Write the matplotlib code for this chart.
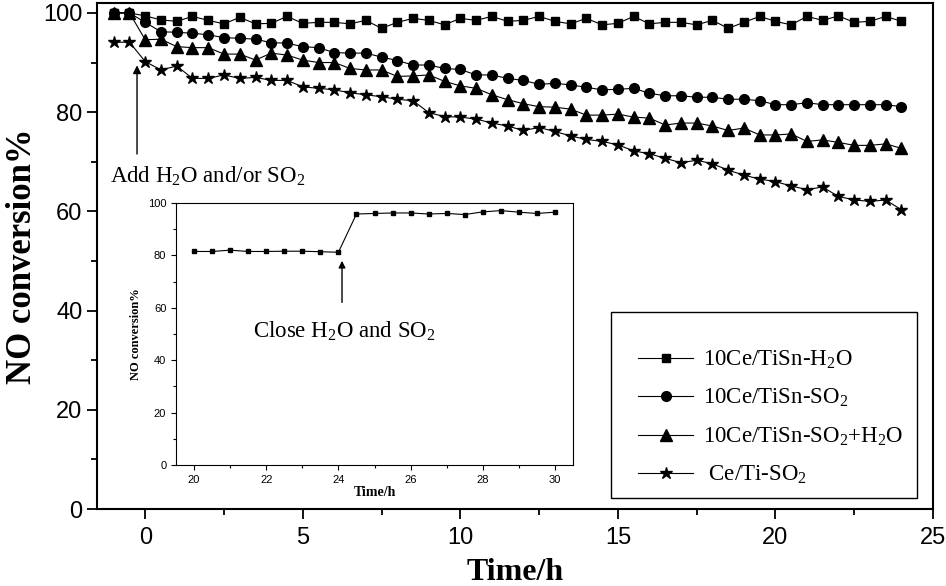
import matplotlib
matplotlib.use("Agg")
import matplotlib.pyplot as plt
from matplotlib.patches import Rectangle
from matplotlib.ticker import MultipleLocator

# data
time_h = [-1 + 0.5 * i for i in range(51)]

h2o = [100.0, 100.0, 99.4, 98.6, 98.3, 99.3, 98.5, 97.8, 99.1, 97.8,
       97.9, 99.3, 97.9, 98.1, 98.1, 97.8, 98.5, 96.9, 98.1, 98.9,
       98.5, 97.6, 98.9, 98.5, 99.3, 98.3, 98.5, 99.3, 98.3, 97.8,
       98.9, 97.6, 97.9, 99.3, 97.8, 98.1, 98.1, 97.6, 98.5, 96.9,
       98.1, 99.3, 98.3, 97.6, 99.3, 98.5, 99.4, 98.1, 98.3, 99.3,
       98.3]
so2 = [100.0, 100.0, 98.1, 96.2, 96.1, 95.9, 95.6, 95.0, 94.9, 94.7,
       94.0, 93.9, 93.2, 93.0, 92.0, 91.9, 91.9, 91.1, 90.4, 89.5,
       89.5, 88.8, 88.6, 87.5, 87.5, 86.8, 86.4, 85.6, 85.8, 85.5,
       85.0, 84.5, 84.6, 84.8, 83.8, 83.3, 83.3, 83.0, 83.0, 82.6,
       82.6, 82.3, 81.5, 81.5, 81.9, 81.5, 81.5, 81.5, 81.5, 81.5,
       81.1]
so2_h2o = [100.0, 100.0, 94.6, 94.7, 93.2, 93.0, 93.0, 91.7, 91.7, 90.5,
           91.9, 91.5, 90.5, 90.0, 90.0, 88.8, 88.5, 88.5, 87.2, 87.3,
           87.5, 86.2, 85.3, 84.8, 83.5, 82.5, 81.7, 81.1, 81.0, 80.6,
           79.4, 79.4, 79.6, 79.0, 78.8, 77.4, 77.8, 77.8, 77.2, 76.3,
           76.8, 75.4, 75.4, 75.6, 74.1, 74.4, 73.9, 73.3, 73.3, 73.6,
           72.7]
ceti = [94.1, 94.1, 90.2, 88.5, 89.3, 86.8, 86.8, 87.5, 86.8, 87.0,
        86.4, 86.4, 85.1, 84.8, 84.5, 83.9, 83.5, 83.1, 82.6, 82.3,
        79.9, 79.1, 79.0, 78.6, 77.8, 77.2, 76.3, 76.9, 76.1, 75.2,
        74.5, 74.1, 73.4, 72.2, 71.6, 70.7, 69.8, 70.3, 69.6, 68.3,
        67.3, 66.5, 66.0, 65.1, 64.4, 64.9, 63.0, 62.3, 62.0, 62.3,
        60.3]

labels = ['10Ce/TiSn-H$_2$O', '10Ce/TiSn-SO$_2$',
          '10Ce/TiSn-SO$_2$+H$_2$O', ' Ce/Ti-SO$_2$']

# inset: switching off H2O and SO2
inset_t = [20, 20.5, 21, 21.5, 22, 22.5, 23, 23.5, 24, 24.5, 25,
           25.5, 26, 26.5, 27, 27.5, 28, 28.5, 29, 29.5, 30]
inset_no = [81.5, 81.5, 82.0, 81.5, 81.5, 81.6, 81.6, 81.4, 81.2, 95.8, 96.0,
            96.2, 96.2, 95.8, 96.0, 95.6, 96.6, 97.1, 96.5, 96.0, 96.5]

plt.rcParams['mathtext.fontset'] = 'custom'
plt.rcParams['mathtext.rm'] = 'Liberation Serif'
plt.rcParams['mathtext.it'] = 'Liberation Serif:italic'
plt.rcParams['mathtext.bf'] = 'Liberation Serif:bold'
serif = ['Liberation Serif', 'DejaVu Serif']
sans = ['Liberation Sans', 'DejaVu Sans']

fig = plt.figure(figsize=(9.46, 5.86), dpi=100)
ax = fig.add_axes([97/946, 1 - 509/586, 836/946, 506/586])

ax.plot(time_h, h2o, 'k-', marker='s', ms=6, lw=0.8, label=labels[0])
ax.plot(time_h, so2, 'k-', marker='o', ms=7, lw=0.8, label=labels[1])
ax.plot(time_h, so2_h2o, 'k-', marker='^', ms=8, lw=0.8, label=labels[2])
ax.plot(time_h, ceti, 'k-', marker='*', ms=9, lw=0.8, label=labels[3])

ax.set_xlim(-1.53, 25)
ax.set_ylim(0, 102)
ax.xaxis.set_major_locator(MultipleLocator(5))
ax.xaxis.set_minor_locator(MultipleLocator(2.5))
ax.yaxis.set_major_locator(MultipleLocator(20))
ax.yaxis.set_minor_locator(MultipleLocator(10))
ax.tick_params(which='major', direction='out', length=7, width=1.3, labelsize=17)
ax.tick_params(axis='x', which='major', pad=6)
ax.tick_params(which='minor', direction='out', length=4, width=1.3)
for lab in ax.get_xticklabels() + ax.get_yticklabels():
    lab.set_family(sans)
for sp in ax.spines.values():
    sp.set_linewidth(1.5)

xl = ax.set_xlabel('Time/h', family=serif, fontweight='bold', fontsize=23)
xl.set_va('baseline')
ax.xaxis.set_label_coords(0.5, -(580 - 509) / 506)
yl = ax.set_ylabel('NO conversion%', family=serif, fontweight='bold', fontsize=25)
yl.set_va('center')
ax.yaxis.set_label_coords(-(97 - 23) / 836, 0.5)

ax.annotate('', xy=(-0.26, 90.0), xytext=(-0.26, 71.0),
            arrowprops=dict(arrowstyle='-|>', color='k', lw=1, mutation_scale=12))
ax.text(-1.12, 65.7, 'Add H$_2$O and/or SO$_2$', family=serif, fontsize=16.5, va='baseline')

# legend: entries without frame, box drawn separately
leg = ax.legend(loc='center left', bbox_to_anchor=(638/946, 1 - 417.5/586),
                bbox_transform=fig.transFigure, prop={'family': serif, 'size': 16.5},
                frameon=False, handlelength=2.4, handletextpad=0.45,
                borderpad=0, borderaxespad=0, labelspacing=0.7)
fig.patches.append(Rectangle((611/946, 1 - 498/586), 306/946, 186/586,
                             transform=fig.transFigure, fill=False,
                             edgecolor='k', lw=1.0, zorder=5))

# inset axes
ins = fig.add_axes([176/946, 1 - 465/586, 397/946, 262/586])
ins.plot(inset_t, inset_no, 'k-', marker='s', ms=3, lw=0.8)
ins.set_xlim(19.5, 30.5)
ins.set_ylim(0, 100)
ins.xaxis.set_major_locator(MultipleLocator(2))
ins.xaxis.set_minor_locator(MultipleLocator(1))
ins.yaxis.set_major_locator(MultipleLocator(20))
ins.yaxis.set_minor_locator(MultipleLocator(10))
ins.tick_params(which='major', direction='out', length=3.5, width=0.8, labelsize=8)
ins.tick_params(which='minor', direction='out', length=2.5, width=0.8)
for lab in ins.get_xticklabels() + ins.get_yticklabels():
    lab.set_family(sans)
for sp in ins.spines.values():
    sp.set_linewidth(0.8)
ins.set_xlabel('Time/h', family=serif, fontweight='bold', fontsize=10, labelpad=1)
ins.set_ylabel('NO conversion%', family=serif, fontweight='bold', fontsize=9, labelpad=4)
ins.annotate('', xy=(24.1, 79.0), xytext=(24.1, 61.0),
             arrowprops=dict(arrowstyle='-|>', color='k', lw=1, mutation_scale=10))
ins.text(21.62, 48.5, 'Close H$_2$O and SO$_2$', family=serif, fontsize=16.5, va='baseline')

fig.savefig('out.png', dpi=100)
